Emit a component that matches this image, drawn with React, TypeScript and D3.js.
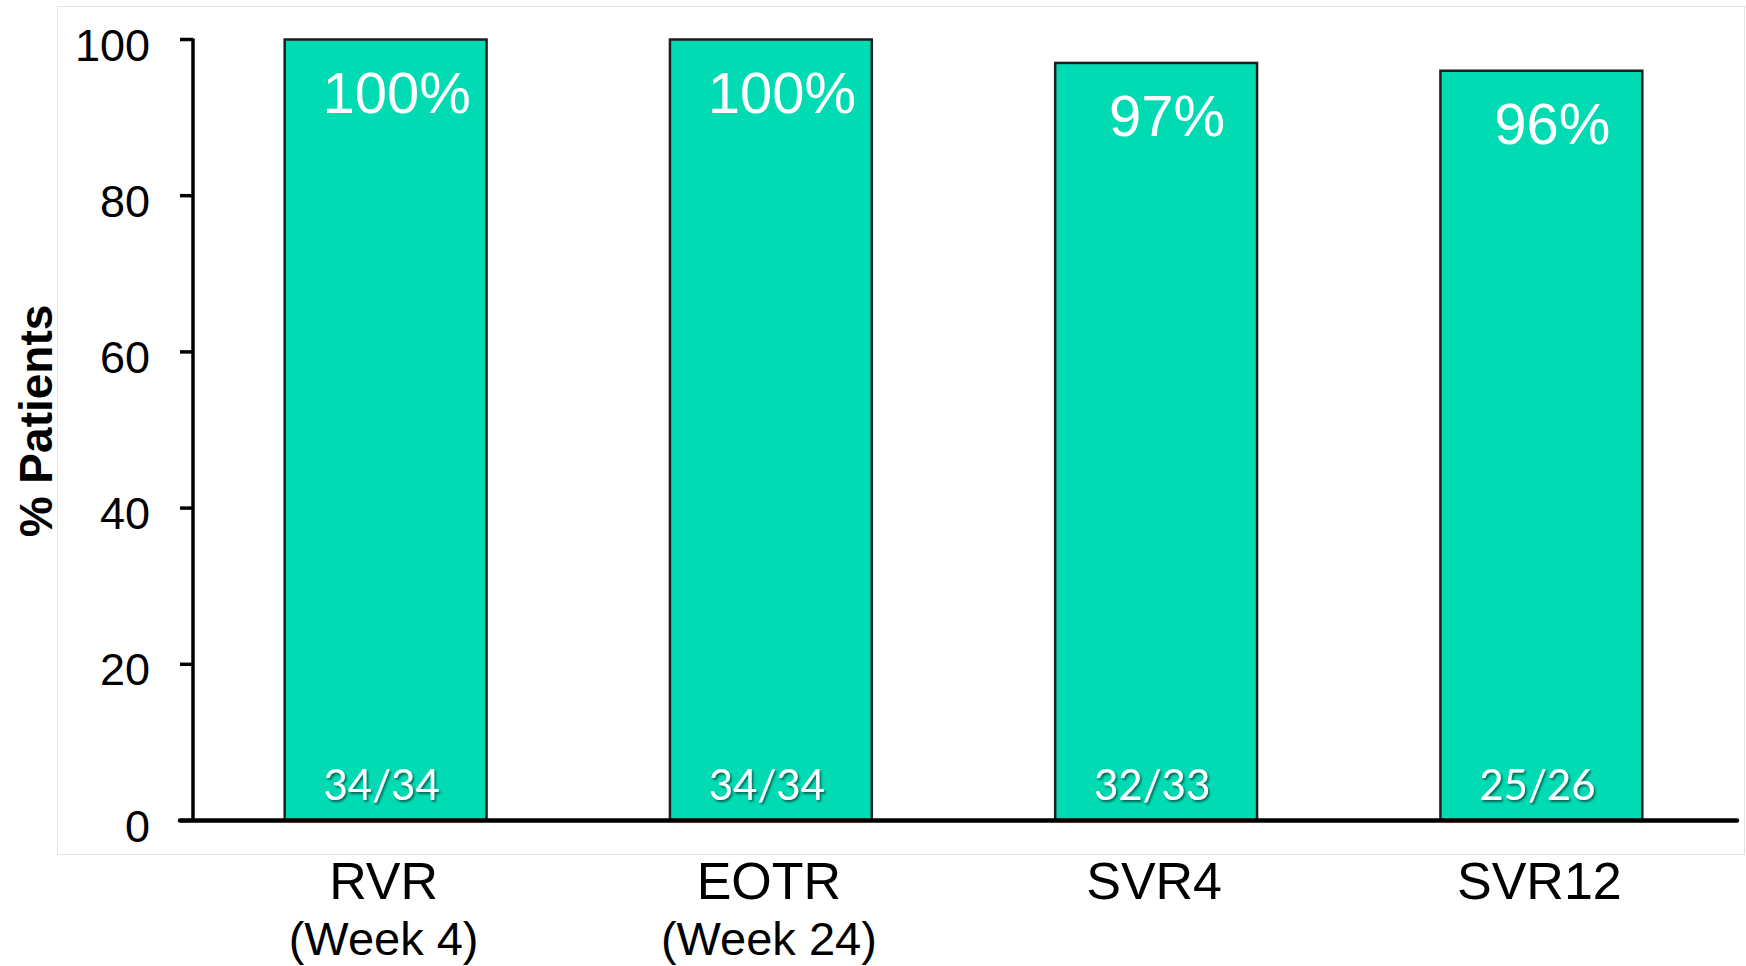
import React from "react";
import * as d3 from "d3";

// Response rates by time point
const categories = ["RVR", "EOTR", "SVR4", "SVR12"];
const subLabels = ["(Week 4)", "(Week 24)", "", ""];
const percentValues = [100, 100, 97, 96];
const patientCounts = ["34/34", "34/34", "32/33", "25/26"];
const yTicks = [0, 20, 40, 60, 80, 100];

const W = 1746;
const H = 966;
const BAR_FILL = "#00dbb4";
const SANS = "'Liberation Sans', Arial, Helvetica, sans-serif";

export default function App() {
  const x = d3
    .scaleBand<string>()
    .domain(categories)
    .range([193, 1734])
    .paddingInner(0.476)
    .paddingOuter(0.238);
  const y = d3.scaleLinear().domain([0, 100]).range([820.5, 39.5]);
  const axisX = 193;
  const bw = x.bandwidth();

  return (
    <svg
      width={W}
      height={H}
      viewBox={`0 0 ${W} ${H}`}
      style={{ position: "absolute", left: 0, top: 0, background: "#fff" }}
    >
      <defs>
        <filter id="countShadow" x="-20%" y="-30%" width="140%" height="160%">
          <feDropShadow dx="1.5" dy="2" stdDeviation="1.2" floodColor="#000" floodOpacity="0.55" />
        </filter>
      </defs>

      {/* plot frame */}
      <rect x={57.5} y={6.5} width={1687} height={848} fill="none" stroke="#e2e2e2" strokeWidth={1} />

      {/* bars */}
      {categories.map((c, i) => (
        <rect
          key={c}
          x={x(c)}
          y={y(percentValues[i])}
          width={bw}
          height={y(0) - y(percentValues[i])}
          fill={BAR_FILL}
          stroke="#1e1e1e"
          strokeWidth={2.5}
        />
      ))}

      {/* percentage labels */}
      {categories.map((c, i) => (
        <text
          key={c + "-pct"}
          x={(x(c) as number) + bw / 2 + 11}
          y={y(percentValues[i]) + 73}
          textAnchor="middle"
          fontFamily={SANS}
          fontSize={58}
          fill="#fff"
        >
          {percentValues[i]}%
        </text>
      ))}

      {/* patient counts */}
      {categories.map((c, i) => (
        <text
          key={c + "-n"}
          x={(x(c) as number) + bw / 2 - 4}
          y={800}
          textAnchor="middle"
          fontFamily="Lato, 'Open Sans', sans-serif"
          fontSize={42}
          fill="#fff"
          filter="url(#countShadow)"
        >
          {patientCounts[i]}
        </text>
      ))}

      {/* y axis */}
      <line x1={axisX} x2={axisX} y1={y(100) - 1} y2={y(0)} stroke="#000" strokeWidth={3.5} />
      {yTicks.map((t) => (
        <g key={t}>
          <line x1={180} x2={axisX} y1={y(t)} y2={y(t)} stroke="#000" strokeWidth={3.5} />
          <text
            x={150}
            y={y(t)}
            dy="0.47em"
            textAnchor="end"
            fontFamily={SANS}
            fontSize={45}
            fill="#000"
          >
            {t}
          </text>
        </g>
      ))}

      {/* baseline */}
      <line
        x1={180}
        x2={1737}
        y1={y(0)}
        y2={y(0)}
        stroke="#000"
        strokeWidth={4.5}
        strokeLinecap="round"
      />

      {/* y axis title */}
      <text
        transform={`translate(52, 421) rotate(-90)`}
        textAnchor="middle"
        fontFamily={SANS}
        fontWeight="bold"
        fontSize={46}
        fill="#000"
      >
        % Patients
      </text>

      {/* category labels */}
      {categories.map((c, i) => {
        const cx = (x(c) as number) + bw / 2 - 2;
        return (
          <g key={c + "-cat"}>
            <text x={cx} y={899} textAnchor="middle" fontFamily={SANS} fontSize={52} fill="#000">
              {c}
            </text>
            {subLabels[i] && (
              <text x={cx} y={955} textAnchor="middle" fontFamily={SANS} fontSize={47} fill="#000">
                {subLabels[i]}
              </text>
            )}
          </g>
        );
      })}
    </svg>
  );
}
